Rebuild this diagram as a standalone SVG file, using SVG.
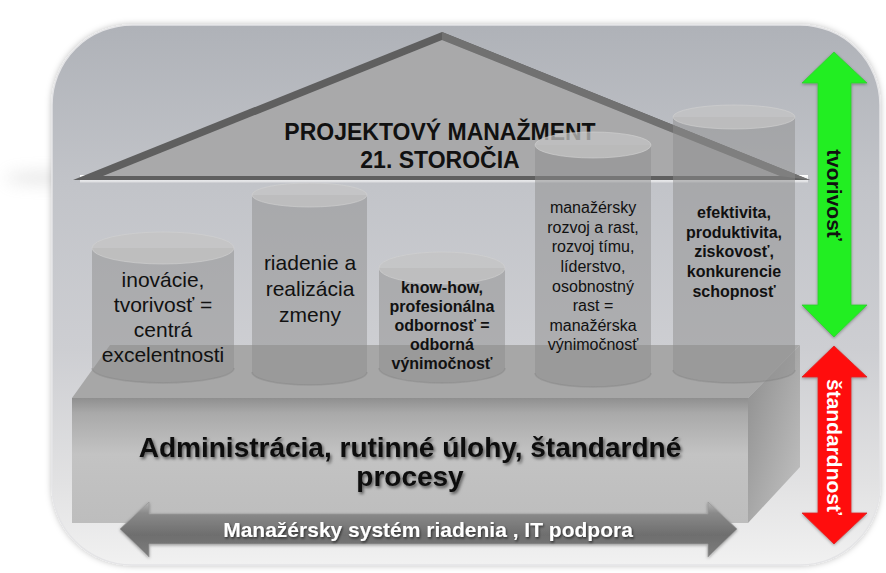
<svg xmlns="http://www.w3.org/2000/svg" width="886" height="573" viewBox="0 0 886 573">
<defs>
  <linearGradient id="bg" x1="0" y1="0" x2="0" y2="1">
    <stop offset="0" stop-color="#afb2b8"/>
    <stop offset="0.3" stop-color="#c2c4c9"/>
    <stop offset="0.6" stop-color="#cdced2"/>
    <stop offset="0.85" stop-color="#e2e2e3"/>
    <stop offset="1" stop-color="#f1f1f1"/>
  </linearGradient>
  <linearGradient id="strip" x1="0" y1="0" x2="0" y2="1">
    <stop offset="0" stop-color="#ffffff"/>
    <stop offset="1" stop-color="#dcdde0"/>
  </linearGradient>
  <linearGradient id="front" x1="0" y1="0" x2="0" y2="1">
    <stop offset="0" stop-color="#8f8f8f"/>
    <stop offset="0.12" stop-color="#a9a9a9"/>
    <stop offset="0.45" stop-color="#c3c3c3"/>
    <stop offset="1" stop-color="#bdbdbd"/>
  </linearGradient>
  <linearGradient id="side" x1="0" y1="0" x2="1" y2="1">
    <stop offset="0" stop-color="#8c8c8c"/>
    <stop offset="1" stop-color="#c4c4c4"/>
  </linearGradient>
  <linearGradient id="gray-arrow" x1="0" y1="0" x2="0" y2="1">
    <stop offset="0" stop-color="#b5b5b5"/>
    <stop offset="0.2" stop-color="#8a8a8a"/>
    <stop offset="0.6" stop-color="#6e6e6e"/>
    <stop offset="1" stop-color="#7e7e7e"/>
  </linearGradient>
  <filter id="tshadow" x="-10%" y="-30%" width="120%" height="160%">
    <feDropShadow dx="1.5" dy="2" stdDeviation="1.6" flood-color="#000" flood-opacity="0.55"/>
  </filter>
  <filter id="wshadow" x="-10%" y="-30%" width="120%" height="160%">
    <feDropShadow dx="1" dy="1.5" stdDeviation="1" flood-color="#000" flood-opacity="0.6"/>
  </filter>
  <filter id="ashadow" x="-20%" y="-10%" width="140%" height="120%">
    <feDropShadow dx="0" dy="1" stdDeviation="1.5" flood-color="#000" flood-opacity="0.35"/>
  </filter>
  <filter id="fshadow" x="-5%" y="-5%" width="110%" height="110%">
    <feDropShadow dx="0" dy="0" stdDeviation="3" flood-color="#000" flood-opacity="0.25"/>
  </filter>
  <filter id="blur4" x="-50%" y="-200%" width="200%" height="500%"><feGaussianBlur stdDeviation="8"/></filter>
</defs>
<style>
  .cyl-body { fill: #8e8e8e; fill-opacity: 0.5; }
  .cyl-top { fill: #c4c4c4; fill-opacity: 0.75; stroke: #d2d2d2; stroke-opacity: 0.6; stroke-width: 1; }
  .cyl-edge { fill: none; stroke: #7d7d7d; stroke-opacity: 0.35; stroke-width: 1.5; }
  .t-reg { font-family: "Liberation Sans", Arial, sans-serif; fill: #111; text-anchor: middle; }
  .t-bold { font-family: "Liberation Sans", Arial, sans-serif; font-weight: bold; fill: #111; text-anchor: middle; }
  .t-white { font-family: "Liberation Sans", Arial, sans-serif; font-weight: bold; fill: #fff; text-anchor: middle; }
</style>

<rect width="886" height="573" fill="#ffffff"/>

<g id="frame">
  <ellipse cx="45" cy="178" rx="40" ry="6" fill="#999" opacity="0.25" filter="url(#blur4)"/>
  <rect x="52" y="25" width="828" height="540" rx="80" ry="80" fill="url(#bg)" stroke="#e4e4e6" stroke-width="1.5" filter="url(#fshadow)"/>
</g>

<g id="roof">
  <rect x="80" y="175" width="728" height="7.5" fill="url(#strip)"/>
  <polygon points="73,180 442,32 810,180" fill="#5f5f5f"/>
  <polygon points="442,32 810,180 780,176 442,40" fill="#717171"/>
  <polygon points="103,176 442,40 780,176" fill="#a9a9aa"/>
  <text class="t-bold" x="440" y="140" font-size="23">PROJEKTOVÝ MANAŽMENT</text>
  <text class="t-bold" x="440" y="168" font-size="23">21. STOROČIA</text>
</g>

<g id="base">
  <polygon points="72,398 110,345 800,345 748,398" fill="#a7a7a7"/>
  <rect x="72" y="398" width="676" height="125" fill="url(#front)"/>
  <polygon points="748,398 800,345 800,467 748,523" fill="url(#side)"/>
  <text class="t-bold" x="410" y="457" font-size="28" filter="url(#tshadow)">Administrácia, rutinné úlohy, štandardné</text>
  <text class="t-bold" x="410" y="486" font-size="28" filter="url(#tshadow)">procesy</text>
</g>

<g id="pillar-1">
  <path class="cyl-body" d="M92,248 L92,368 A71,15 0 0 0 234,368 L234,248 Z"/>
  <path class="cyl-edge" d="M92,368 A71,15 0 0 0 234,368"/>
  <ellipse class="cyl-top" cx="163" cy="248" rx="71" ry="16"/>
  <text class="t-reg" font-size="21"><tspan x="163" y="287">inovácie,</tspan><tspan x="163" y="312">tvorivosť =</tspan><tspan x="163" y="337">centrá</tspan><tspan x="163" y="362">excelentnosti</tspan></text>
</g>

<g id="pillar-2">
  <path class="cyl-body" d="M252,195 L252,372 A57.5,13 0 0 0 367,372 L367,195 Z"/>
  <path class="cyl-edge" d="M252,372 A57.5,13 0 0 0 367,372"/>
  <ellipse class="cyl-top" cx="309.5" cy="195" rx="57.5" ry="12"/>
  <text class="t-reg" font-size="21"><tspan x="310" y="270">riadenie a</tspan><tspan x="310" y="296">realizácia</tspan><tspan x="310" y="322">zmeny</tspan></text>
</g>

<g id="pillar-3">
  <path class="cyl-body" d="M379,268 L379,368 A63,15 0 0 0 505,368 L505,268 Z"/>
  <path class="cyl-edge" d="M379,368 A63,15 0 0 0 505,368"/>
  <ellipse class="cyl-top" cx="442" cy="268" rx="63" ry="16"/>
  <text class="t-bold" font-size="16"><tspan x="442" y="293">know-how,</tspan><tspan x="442" y="312">profesionálna</tspan><tspan x="442" y="331">odbornosť =</tspan><tspan x="442" y="350">odborná</tspan><tspan x="442" y="369">výnimočnosť</tspan></text>
</g>

<g id="pillar-4">
  <path class="cyl-body" d="M535,145 L535,373 A58,14 0 0 0 651,373 L651,145 Z"/>
  <path class="cyl-edge" d="M535,373 A58,14 0 0 0 651,373"/>
  <ellipse class="cyl-top" cx="593" cy="145" rx="58" ry="13"/>
  <text class="t-reg" font-size="16"><tspan x="593" y="213">manažérsky</tspan><tspan x="593" y="233">rozvoj a rast,</tspan><tspan x="593" y="252">rozvoj tímu,</tspan><tspan x="593" y="272">líderstvo,</tspan><tspan x="593" y="292">osobnostný</tspan><tspan x="593" y="311">rast =</tspan><tspan x="593" y="331">manažérska</tspan><tspan x="593" y="350">výnimočnosť</tspan></text>
</g>

<g id="pillar-5">
  <path class="cyl-body" d="M673,117 L673,370 A61,13 0 0 0 795,370 L795,117 Z"/>
  <path class="cyl-edge" d="M673,370 A61,13 0 0 0 795,370"/>
  <ellipse class="cyl-top" cx="734" cy="117" rx="61" ry="12"/>
  <text class="t-bold" font-size="16"><tspan x="734" y="218">efektivita,</tspan><tspan x="734" y="238">produktivita,</tspan><tspan x="734" y="257">ziskovosť,</tspan><tspan x="734" y="277">konkurencie</tspan><tspan x="734" y="297">schopnosť</tspan></text>
</g>

<g id="connectors">
  <g id="arrow-system">
    <polygon points="120,529 149,502 149,514 708,514 708,502 737,529 708,557 708,544 149,544 149,557" fill="url(#gray-arrow)" stroke="#9a9a9a" stroke-width="0.8" filter="url(#ashadow)"/>
    <text class="t-white" x="428" y="537" font-size="21" filter="url(#wshadow)">Manažérsky systém riadenia , IT podpora</text>
  </g>
  <g id="arrow-tvorivost">
    <polygon points="834,52 867,83 851,83 851,305 867,305 834,337 802,305 818,305 818,83 802,83" fill="#22ee22" stroke="#33cc33" stroke-width="0.8" filter="url(#ashadow)"/>
    <text class="t-bold" font-size="21" transform="translate(827,195) rotate(90)">tvorivosť</text>
  </g>
  <g id="arrow-standardnost">
    <polygon points="834,346 867,377 851,377 851,513 867,513 834,544 802,513 818,513 818,377 802,377" fill="#ff1111" stroke="#dd2222" stroke-width="0.8" filter="url(#ashadow)"/>
    <text class="t-white" font-size="21" transform="translate(827,447) rotate(90)">štandardnosť</text>
  </g>
</g>
</svg>
